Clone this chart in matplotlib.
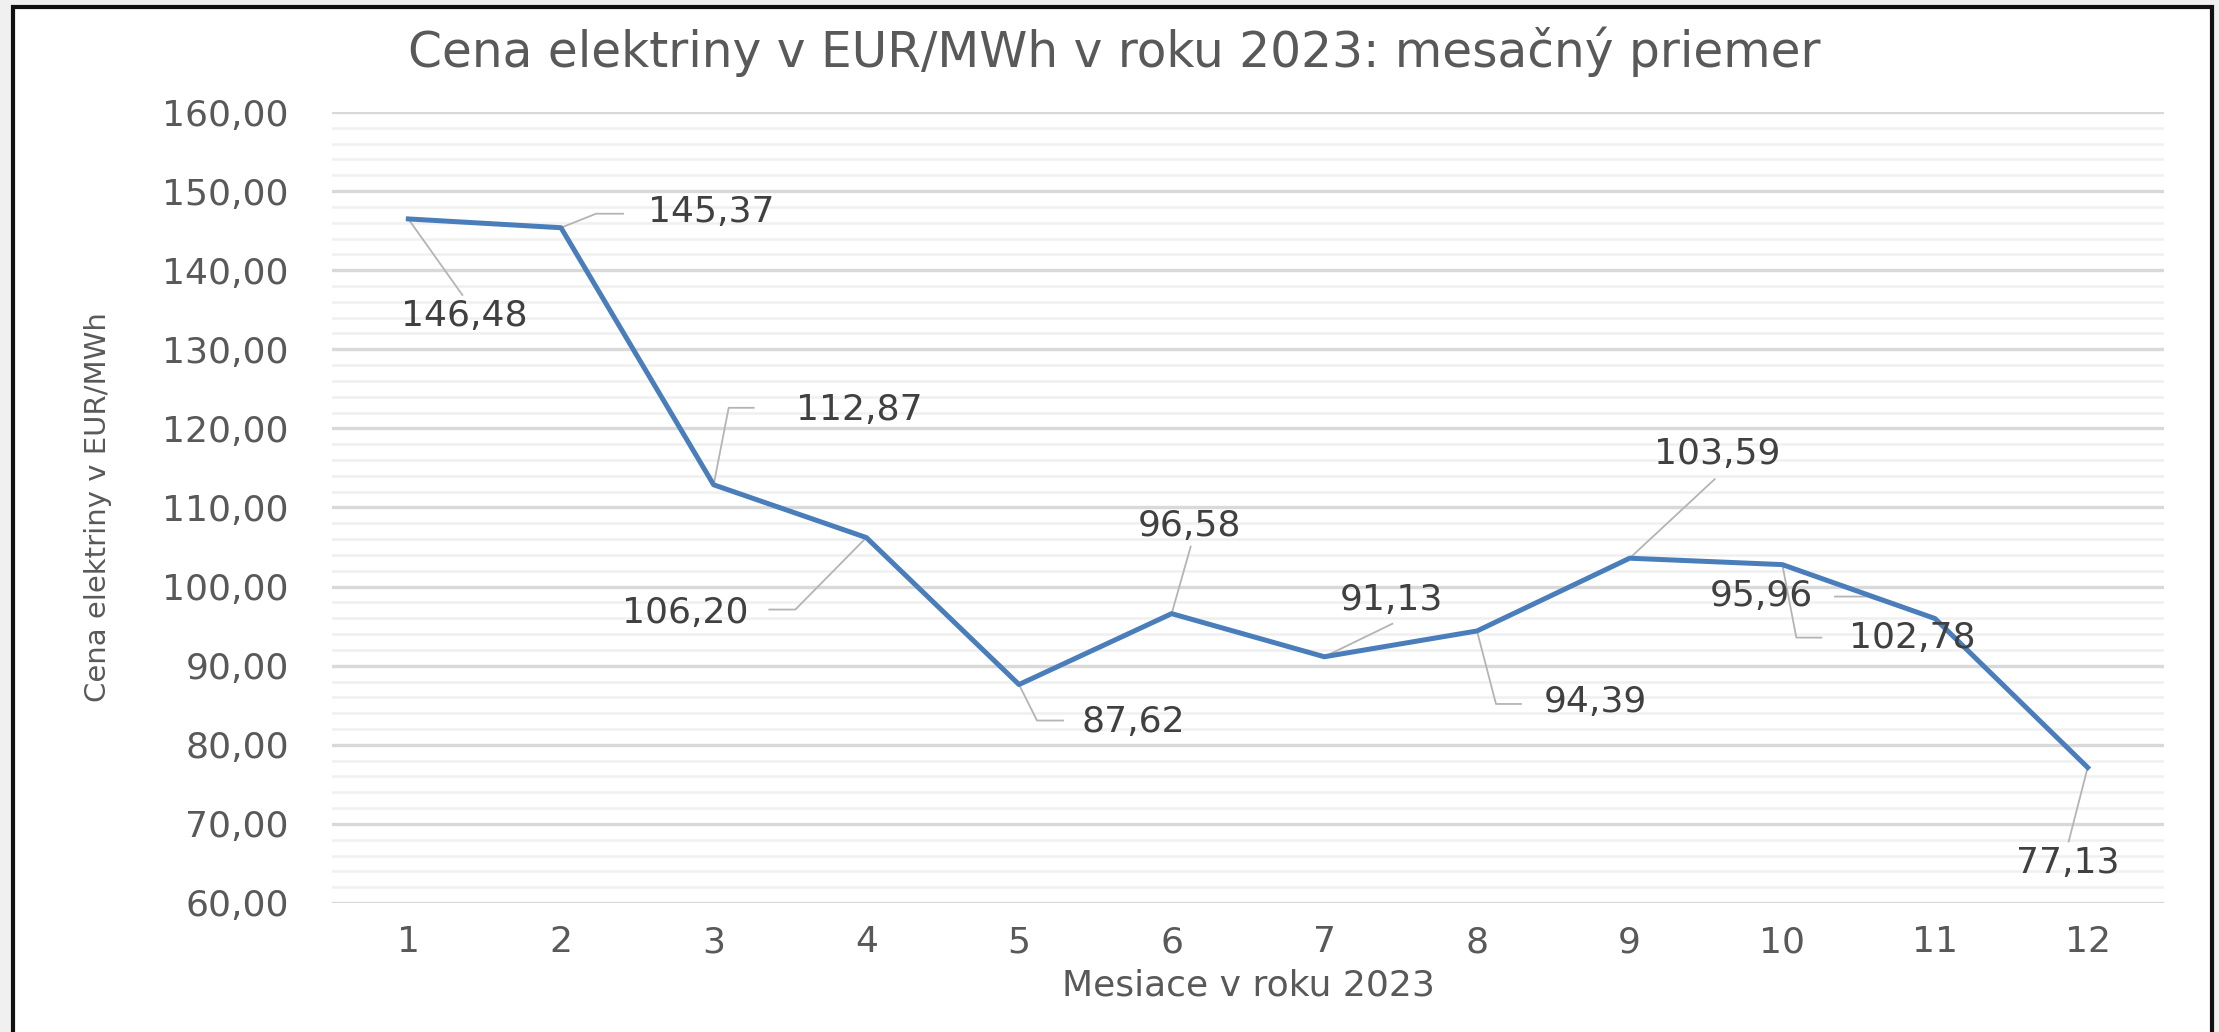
import matplotlib
matplotlib.use("Agg")
import matplotlib.pyplot as plt
from matplotlib.patches import Rectangle
from matplotlib.lines import Line2D
from matplotlib.transforms import Affine2D
import numpy as np

# ---- data ----
months = [1, 2, 3, 4, 5, 6, 7, 8, 9, 10, 11, 12]
prices = [146.48, 145.37, 112.87, 106.20, 87.62, 96.58, 91.13, 94.39, 103.59, 102.78, 95.96, 77.13]
title = "Cena elektriny v EUR/MWh v roku 2023: mesačný priemer"
x_title = "Mesiace v roku 2023"
y_title = "Cena elektriny v EUR/MWh"
y_ticks = [60, 70, 80, 90, 100, 110, 120, 130, 140, 150, 160]

# ---- layout of data labels (pixel offsets from each point, y up) ----
label_offsets = [(56, -97), (150, 16), (146, 75), (-181, -75), (114, -37), (18, 88),
                 (67, 57), (118, -71), (88, 104), (130, -73), (-174, 23), (-20, -95)]
leader_paths = [
    [(0, 0), (54, -76)],
    [(0, 0), (35, 14), (62, 14)],
    [(0, 0), (15, 77), (40, 77)],
    [(0, 0), (-71, -72), (-97, -72)],
    [(0, 0), (18, -36), (44, -36)],
    [(0, 0), (19, 67)],
    [(0, 0), (68, 33)],
    [(0, 0), (19, -73), (44, -73)],
    [(0, 0), (85, 79)],
    [(0, 0), (14, -73), (39, -73)],
    [(0, 0), (-68, 22), (-100, 22)],
    [(0, 0), (-19, -74)],
]

W, H, DPI = 2219, 1032, 100
plt.rcParams['font.family'] = ['DejaVu Sans']
fig = plt.figure(figsize=(W / DPI, H / DPI), dpi=DPI)
fig.patch.set_facecolor('#f0f0f0')

# white chart area with black frame
frame = Rectangle((13 / W, -0.05), (2212 - 13) / W, 1.05 - 7 / H, transform=fig.transFigure,
                  facecolor='white', edgecolor='#111111', linewidth=3, zorder=-5)
fig.patches.append(frame)

ax = fig.add_axes([332 / W, 1 - 903 / H, (2164 - 332) / W, (903 - 112) / H])
ax.set_zorder(2)
ax.set_facecolor('none')
ax.set_xlim(0.5, 12.5)
ax.set_ylim(60, 160)
for s in ax.spines.values():
    s.set_visible(False)

# gridlines
ax.set_yticks(y_ticks)
ax.set_yticks(np.arange(60, 161, 2), minor=True)
ax.grid(axis='y', which='major', color='#d9d9d9', linewidth=2.4, zorder=1)
ax.grid(axis='y', which='minor', color='#f0f0f0', linewidth=1.8, zorder=0.9)
ax.set_axisbelow(True)
ax.tick_params(axis='y', which='minor', length=0)
ax.set_yticklabels([f"{v:.2f}".replace('.', ',') for v in y_ticks])
ax.set_xticks(months)
ax.set_xticklabels([str(m) for m in months])
ax.tick_params(axis='both', which='major', length=0, labelsize=26, colors='#595959')
ax.tick_params(axis='y', pad=31)
ax.tick_params(axis='x', pad=16)

ax.plot(months, prices, color='#4a7ebb', linewidth=3.6, zorder=3, solid_joinstyle='round')

fig.canvas.draw()
for m, v, (dx, dy), path in zip(months, prices, label_offsets, leader_paths):
    px, py = ax.transData.transform((m, v))
    xs = [p[0] for p in path]
    ys = [p[1] for p in path]
    ln = Line2D(xs, ys, color='#b4b4b4', linewidth=1.3,
                transform=Affine2D().translate(px, py), zorder=2)
    ax.add_artist(ln)
    ax.annotate(f"{v:.2f}".replace('.', ','), xy=(m, v), xytext=(dx, dy),
                textcoords='offset pixels', ha='center', va='center',
                fontsize=26, color='#404040', zorder=4)

fig.text(0.502, 1 - 52 / H, title, ha='center', va='center', fontsize=35, color='#595959')
fig.text(1248 / W, 1 - 985 / H, x_title, ha='center', va='center', fontsize=26, color='#595959')
fig.text(98 / W, 1 - 507 / H, y_title, ha='center', va='center', rotation=90,
         fontsize=21, color='#595959')

fig.savefig('out.png', dpi=DPI, facecolor=fig.get_facecolor())
